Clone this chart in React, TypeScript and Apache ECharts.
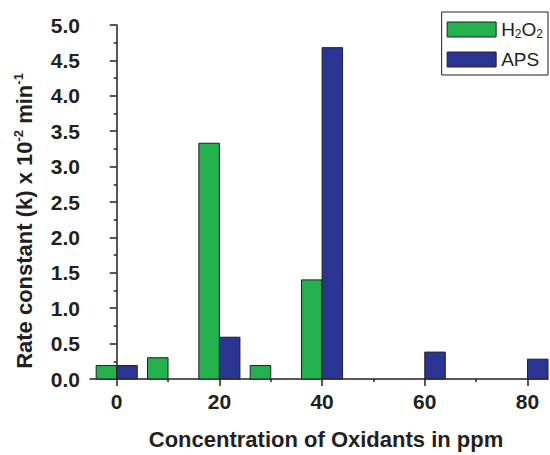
import React, { useEffect, useRef } from "react";
import * as echarts from "echarts";

const xTickLabels = [0, 20, 40, 60, 80];
const h2o2Conc = [0, 10, 20, 30, 40];
const h2o2Rate = [0.19, 0.3, 3.33, 0.19, 1.4];
const apsConc = [0, 20, 40, 60, 80];
const apsRate = [0.19, 0.59, 4.68, 0.38, 0.28];

const GREEN = "#22B14C";
const BLUE = "#2A3593";
const INK = "#231f20";
const FONT = "'Liberation Sans', Arial, sans-serif";
const BAR_W = 4;

function makeRender(color: string, start: number, end: number) {
  return (params: any, api: any) => {
    const x = api.value(0);
    const y = api.value(1);
    const p0 = api.coord([x + start, y]);
    const p1 = api.coord([x + end, 0]);
    return {
      type: "rect",
      shape: { x: p0[0], y: p0[1], width: p1[0] - p0[0], height: p1[1] - p0[1] },
      style: { fill: color, stroke: INK, lineWidth: 1 },
    };
  };
}

export default function App() {
  const ref = useRef<HTMLDivElement>(null);
  useEffect(() => {
    if (!ref.current) return;
    const chart = echarts.init(ref.current, undefined, { renderer: "svg" });
    chart.setOption({
      animation: false,
      backgroundColor: "#ffffff",
      textStyle: { fontFamily: FONT },
      grid: { left: 90, right: 2, top: 25, bottom: 69 },
      legend: {
        orient: "vertical",
        right: 2,
        top: 12,
        padding: [8, 5, 6, 5],
        itemGap: 10,
        itemWidth: 49,
        itemHeight: 15,
        icon: "rect",
        borderColor: INK,
        borderWidth: 1,
        itemStyle: { borderColor: INK, borderWidth: 1 },
        data: ["H2O2", "APS"],
        formatter: (name: string) =>
          name === "H2O2" ? "{n|H}{s|2}{n|O}{s|2}" : "{n|" + name + "}",
        textStyle: {
          fontFamily: FONT,
          color: INK,
          fontSize: 19,
          rich: {
            n: { fontSize: 19, fontFamily: FONT, color: INK },
            s: { fontSize: 12, fontFamily: FONT, color: INK, padding: [9, 0, 0, 0] },
          },
        },
      },
      xAxis: {
        type: "value",
        min: -5.2,
        max: 84,
        splitLine: { show: false },
        axisLine: { show: true, lineStyle: { color: INK, width: 1.5 } },
        axisTick: {
          show: true,
          length: 7,
          customValues: xTickLabels,
          lineStyle: { color: INK, width: 1.5 },
        },
        minorTick: { show: true, splitNumber: 2, length: 3, lineStyle: { color: INK, width: 1.5 } },
        axisLabel: {
          customValues: xTickLabels,
          margin: 12,
          fontSize: 21,
          fontWeight: "bold",
          color: INK,
          fontFamily: FONT,
        },
        name: "Concentration of Oxidants in ppm",
        nameLocation: "middle",
        nameGap: 49,
        nameTextStyle: {
          fontSize: 22,
          fontWeight: "bold",
          color: INK,
          fontFamily: FONT,
          padding: [0, 0, 0, 14],
        },
      },
      yAxis: {
        type: "value",
        min: 0,
        max: 5,
        interval: 0.5,
        splitLine: { show: false },
        axisLine: { show: true, lineStyle: { color: INK, width: 1.5 } },
        axisTick: { show: true, length: 7, lineStyle: { color: INK, width: 1.5 } },
        minorTick: { show: true, splitNumber: 2, length: 3, lineStyle: { color: INK, width: 1.5 } },
        axisLabel: {
          margin: 10,
          fontSize: 21,
          fontWeight: "bold",
          color: INK,
          fontFamily: FONT,
          formatter: (v: number) => v.toFixed(1),
        },
        name: "{b|Rate constant (k) x 10}{sup|-2}{b| min}{sup|-1}",
        nameLocation: "middle",
        nameGap: 53,
        nameRotate: 90,
        nameTextStyle: {
          color: INK,
          fontFamily: FONT,
          padding: [0, 38, 0, 0],
          rich: {
            b: { fontSize: 22, fontWeight: "bold", fontFamily: FONT, color: INK },
            sup: { fontSize: 13, fontWeight: "bold", fontFamily: FONT, color: INK, padding: [0, 0, 12, 0] },
          },
        },
      },
      series: [
        {
          name: "H2O2",
          type: "custom",
          itemStyle: { color: GREEN },
          encode: { x: 0, y: 1 },
          renderItem: makeRender(GREEN, -BAR_W, 0),
          data: h2o2Conc.map((c, i) => [c, h2o2Rate[i]]),
        },
        {
          name: "APS",
          type: "custom",
          itemStyle: { color: BLUE },
          encode: { x: 0, y: 1 },
          renderItem: makeRender(BLUE, 0, BAR_W),
          data: apsConc.map((c, i) => [c, apsRate[i]]),
        },
      ],
    });
    return () => chart.dispose();
  }, []);
  return <div ref={ref} style={{ width: 550, height: 455, position: "absolute", left: 0, top: 0 }} />;
}
